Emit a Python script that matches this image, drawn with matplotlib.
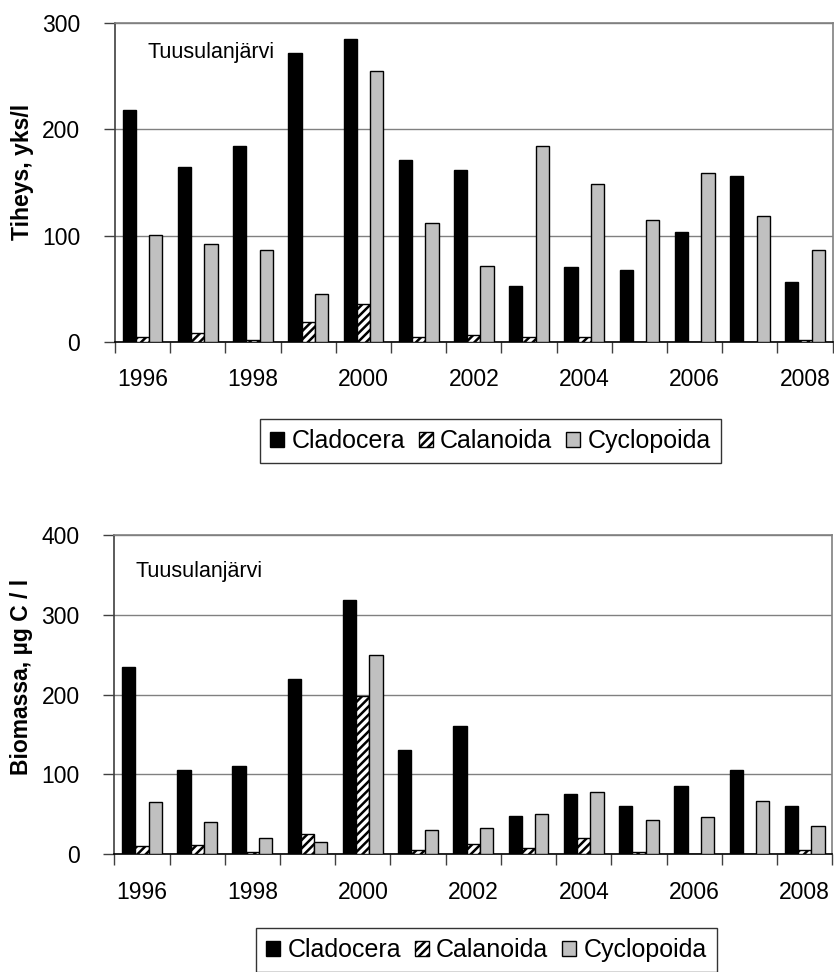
import matplotlib
matplotlib.use("Agg")
import matplotlib.pyplot as plt
from matplotlib.patches import Patch
import numpy as np

plt.rcParams['font.family'] = ['Liberation Sans', 'DejaVu Sans']
plt.rcParams['hatch.linewidth'] = 1.8
plt.rcParams['hatch.color'] = 'black'

years = ['1996', '1997', '1998', '1999', '2000', '2001', '2002',
         '2003', '2004', '2005', '2006', '2007', '2008']
series = ['Cladocera', 'Calanoida', 'Cyclopoida']
lake = 'Tuusulanjärvi'

# Tiheys, yks/l
dens_clad = [218, 164, 184, 272, 285, 171, 162, 53, 70, 68, 103, 156, 56]
dens_cal = [5, 8, 2, 19, 36, 5, 7, 5, 5, 0, 0, 0, 2]
dens_cyc = [101, 92, 86, 45, 255, 112, 71, 184, 148, 115, 159, 118, 86]

# Biomassa, µg C / l
bio_clad = [235, 105, 110, 220, 318, 130, 160, 48, 75, 60, 85, 105, 60]
bio_cal = [10, 12, 3, 25, 198, 5, 13, 8, 20, 3, 0, 0, 5]
bio_cyc = [65, 40, 20, 15, 250, 30, 33, 50, 78, 43, 47, 67, 35]

W, H = 834, 972
fig = plt.figure(figsize=(W / 100, H / 100), dpi=100)

styles = [
    dict(facecolor='black', edgecolor='black'),
    dict(facecolor='white', edgecolor='black', hatch='////'),
    dict(facecolor='#c0c0c0', edgecolor='black'),
]


def panel(rect, data, ymax, ylabel, label_y, text_xy, legend_center):
    ax = fig.add_axes([rect[0] / W, 1 - rect[3] / H,
                       (rect[2] - rect[0]) / W, (rect[3] - rect[1]) / H])
    x = np.arange(len(years))
    w = 0.24
    for k, vals in enumerate(data):
        ax.bar(x + (k - 1) * w, vals, width=w, linewidth=1.0,
               zorder=3, **styles[k])
    ax.set_xlim(-0.5, len(years) - 0.5)
    ax.set_ylim(0, ymax)
    ax.set_yticks(np.arange(0, ymax + 1, 100))
    ax.yaxis.grid(True, color='#808080', linewidth=1.0, zorder=0)
    ax.set_axisbelow(True)
    ax.tick_params(axis='y', direction='out', length=8, width=1,
                   color='#404040', pad=17, labelsize=16.5)
    # boundaries between categories carry the tick marks
    ax.set_xticks(np.arange(-0.5, len(years), 1.0))
    ax.set_xticklabels([])
    ax.tick_params(axis='x', which='major', direction='out', length=8,
                   width=1, color='#404040')
    ax.set_xticks(x[::2], minor=True)
    ax.set_xticklabels(years[::2], minor=True)
    ax.tick_params(axis='x', which='minor', length=0, pad=19, labelsize=16.5)
    for s in ['top', 'right']:
        ax.spines[s].set_color('#808080')
        ax.spines[s].set_linewidth(1.2)
    ax.spines['left'].set_color('#404040')
    ax.spines['left'].set_linewidth(1.2)
    ax.spines['bottom'].set_color('black')
    ax.spines['bottom'].set_linewidth(1.2)
    ax.set_ylabel(ylabel, fontsize=16.5, fontweight='bold')
    ax.yaxis.set_label_coords(-0.113, label_y)
    ax.text(text_xy[0], text_xy[1], lake, transform=ax.transAxes,
            fontsize=15.5, va='center', ha='left')
    handles = [Patch(linewidth=1.0, **styles[k]) for k in range(3)]
    leg = fig.legend(handles, series, loc='center',
                     bbox_to_anchor=(legend_center[0] / W, 1 - legend_center[1] / H),
                     ncol=3, fontsize=18, frameon=True, fancybox=False,
                     edgecolor='black', handlelength=0.55, handleheight=0.55,
                     handletextpad=0.3, columnspacing=0.55, borderpad=0.4,
                     borderaxespad=0)
    leg.get_frame().set_linewidth(1.0)
    return ax


panel((115, 22.7, 832.7, 342), [dens_clad, dens_cal, dens_cyc], 300,
      'Tiheys, yks/l', 0.532, (0.045, 0.908), (490.5, 441))
panel((114.3, 534.7, 832.3, 854.3), [bio_clad, bio_cal, bio_cyc], 400,
      'Biomassa, µg C / l', 0.555, (0.030, 0.886), (486.5, 950))

fig.savefig('out.png', dpi=100)
